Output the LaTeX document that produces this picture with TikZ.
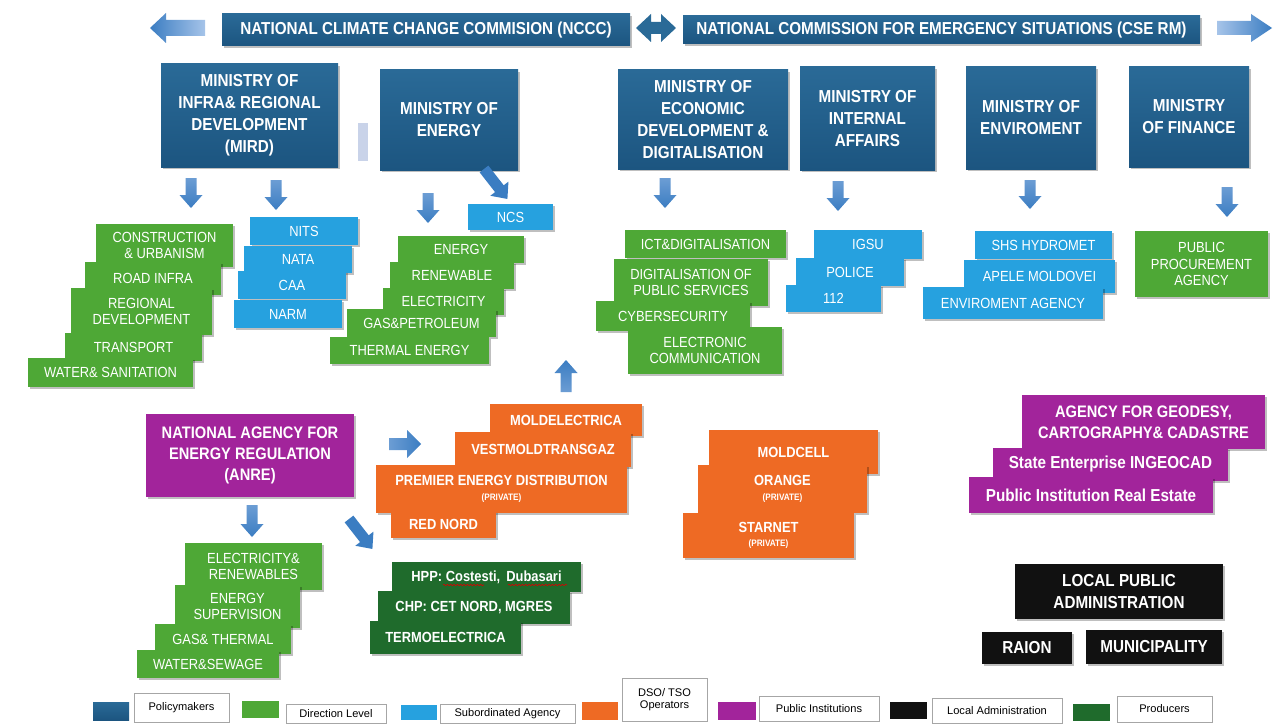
\documentclass[tikz,border=0pt]{standalone}
\usepackage{fontspec}
\setmainfont{Liberation Sans}
\newfontfamily\cond[FakeStretch=0.88]{Liberation Sans}
\usetikzlibrary{shadows,decorations.pathmorphing}
\definecolor{polA}{HTML}{2A6A97}
\definecolor{polB}{HTML}{1C5580}
\definecolor{dirg}{HTML}{4EA836}
\definecolor{subb}{HTML}{26A1DF}
\definecolor{dsoc}{HTML}{EE6A24}
\definecolor{pubc}{HTML}{A2249B}
\definecolor{locc}{HTML}{111111}
\definecolor{prodc}{HTML}{1F6B2C}
\definecolor{arrD}{HTML}{3B7DC2}
\definecolor{arrM}{HTML}{6C9DD4}
\definecolor{arrL}{HTML}{A6C4E9}
\definecolor{barc}{HTML}{C9D3E9}
\tikzset{
 bx/.style={inner sep=1pt, align=center, text=white, drop shadow={shadow xshift=1.2pt, shadow yshift=-1.2pt, opacity=0.25, fill=black}},
 polbox/.style={bx, top color=polA, bottom color=polB, font=\cond\bfseries\fontsize{13}{16.5}\selectfont},
 dirbox/.style={bx, fill=dirg, font=\cond\fontsize{11}{12.5}\selectfont},
 subbox/.style={bx, fill=subb, font=\cond\fontsize{11}{12.5}\selectfont},
 dsobox/.style={bx, fill=dsoc, font=\cond\bfseries\fontsize{11}{12}\selectfont},
 pubbox/.style={bx, fill=pubc, font=\cond\bfseries\fontsize{12.5}{16}\selectfont},
 locbox/.style={bx, fill=locc, font=\cond\bfseries\fontsize{13}{16.5}\selectfont},
 prodbox/.style={bx, fill=prodc, font=\cond\bfseries\fontsize{11}{12}\selectfont},
 legsw/.style={inner sep=0pt},
 legbox/.style={draw=black!35, line width=0.4pt, fill=white, text=black, inner sep=1pt, align=center, font=\fontsize{8.3}{9.5}\selectfont},
}
\newcommand{\mkbox}[7]{\node[#2, minimum width={0.75pt*(#5-#3)}, minimum height={0.75pt*(#6-#4)}] (#1) at ({(#3+#5)/2},{(#4+#6)/2}) {#7};}
\newcommand{\darr}[3]{\shade[top color=arrM, bottom color=arrD] ({#1-5.5},#2) -- ({#1+5.5},#2) -- ({#1+5.5},{#2+#3-13}) -- ({#1+11.5},{#2+#3-13}) -- (#1,{#2+#3}) -- ({#1-11.5},{#2+#3-13}) -- ({#1-5.5},{#2+#3-13}) -- cycle;}
\newcommand{\uarr}[3]{\shade[bottom color=arrM, top color=arrD] ({#1-5.5},#2) -- ({#1+5.5},#2) -- ({#1+5.5},{#2-#3+13}) -- ({#1+11.5},{#2-#3+13}) -- (#1,{#2-#3}) -- ({#1-11.5},{#2-#3+13}) -- ({#1-5.5},{#2-#3+13}) -- cycle;}
\newcommand{\diagarr}[4]{\fill[arrD, shift={(#1,#2)}, rotate=#3] (0,-5.5) -- ({#4-13},-5.5) -- ({#4-13},-11.5) -- (#4,0) -- ({#4-13},11.5) -- ({#4-13},5.5) -- (0,5.5) -- cycle;}
\newcommand{\pv}{\\[-1pt]{\fontsize{7}{8}\selectfont(PRIVATE)}}
\begin{document}
\begin{tikzpicture}[x=0.75pt,y=-0.75pt]
\useasboundingbox[fill=white] (0,0) rectangle (1284,724);
% top row
\shade[left color=arrD, right color=arrL] (205,20) -- (166,20) -- (166,13) -- (150,28) -- (166,43) -- (166,36) -- (205,36) -- cycle;
\mkbox{nccc}{polbox}{222}{14}{630}{46}{NATIONAL CLIMATE CHANGE COMMISION (NCCC)}
\shade[left color=polA, right color=polA] (636,28) -- (651,14) -- (651,22) -- (661,22) -- (661,14) -- (676,28) -- (661,42) -- (661,34) -- (651,34) -- (651,42) -- cycle;
\mkbox{cse}{polbox}{683}{16}{1200}{44}{NATIONAL COMMISSION FOR EMERGENCY SITUATIONS (CSE RM)}
\shade[left color=arrL, right color=arrD] (1217,21) -- (1251,21) -- (1251,14) -- (1272,28) -- (1251,42) -- (1251,35) -- (1217,35) -- cycle;
% ministries
\mkbox{mird}{polbox}{161}{64}{338}{167}{MINISTRY OF\\INFRA\& REGIONAL\\DEVELOPMENT\\(MIRD)}
\fill[barc] (358,123) rectangle (368,161);
\mkbox{moe}{polbox}{380}{70}{518}{170}{MINISTRY OF\\ENERGY}
\mkbox{med}{polbox}{618}{70}{788}{169}{MINISTRY OF\\ECONOMIC\\DEVELOPMENT \&\\DIGITALISATION}
\mkbox{mia}{polbox}{800}{67}{935}{170}{MINISTRY OF\\INTERNAL\\AFFAIRS}
\mkbox{men}{polbox}{966}{67}{1096}{169}{MINISTRY OF\\ENVIROMENT}
\mkbox{mfi}{polbox}{1129}{67}{1249}{167}{MINISTRY\\OF FINANCE}
% arrows under ministries
\darr{191}{178}{30}
\darr{276}{180}{30}
\darr{428}{193}{30}
\diagarr{484}{169}{-52}{38}
\darr{665}{178}{30}
\darr{838}{181}{30}
\darr{1030}{180}{29}
\darr{1227}{187}{30}
% MIRD direction level
\mkbox{cu}{dirbox}{96}{224}{233}{267}{CONSTRUCTION\\\& URBANISM}
\mkbox{ri}{dirbox}{85}{262}{221}{295}{ROAD INFRA}
\mkbox{rd}{dirbox}{71}{288}{212}{335}{REGIONAL\\DEVELOPMENT}
\mkbox{tr}{dirbox}{65}{333}{202}{361}{TRANSPORT}
\mkbox{ws}{dirbox}{28}{358}{193}{387}{WATER\& SANITATION}
% MIRD subordinated
\mkbox{nits}{subbox}{250}{217}{358}{245}{NITS}
\mkbox{nata}{subbox}{244}{246}{352}{273}{NATA}
\mkbox{caa}{subbox}{238}{271}{346}{299}{CAA}
\mkbox{narm}{subbox}{234}{300}{342}{328}{NARM}
% energy
\mkbox{ncs}{subbox}{468}{204}{553}{230}{NCS}
\mkbox{en}{dirbox}{398}{236}{524}{263}{ENERGY}
\mkbox{ren}{dirbox}{390}{262}{514}{289}{RENEWABLE}
\mkbox{el}{dirbox}{383}{288}{504}{315}{ELECTRICITY}
\mkbox{gp}{dirbox}{347}{309}{496}{337}{GAS\&PETROLEUM}
\mkbox{te}{dirbox}{330}{337}{489}{364}{THERMAL ENERGY}
% economy
\mkbox{ict}{dirbox}{625}{230}{786}{258}{ICT\&DIGITALISATION}
\mkbox{dps}{dirbox}{614}{259}{768}{306}{DIGITALISATION OF\\PUBLIC SERVICES}
\mkbox{cyb}{dirbox}{596}{301}{750}{331}{CYBERSECURITY}
\mkbox{ec}{dirbox}{628}{327}{782}{374}{ELECTRONIC\\COMMUNICATION}
% internal
\mkbox{igsu}{subbox}{814}{230}{922}{259}{IGSU}
\mkbox{pol}{subbox}{796}{258}{904}{286}{POLICE}
\mkbox{e112}{subbox}{786}{285}{881}{312}{112}
% environment
\mkbox{shs}{subbox}{975}{231}{1112}{259}{SHS HYDROMET}
\mkbox{apm}{subbox}{964}{260}{1115}{293}{APELE MOLDOVEI}
\mkbox{ena}{subbox}{923}{287}{1103}{319}{ENVIROMENT AGENCY}
% finance
\mkbox{ppa}{dirbox}{1135}{231}{1268}{297}{PUBLIC\\PROCUREMENT\\AGENCY}
% ANRE
\mkbox{anre}{pubbox}{146}{414}{354}{497}{NATIONAL AGENCY FOR\\ENERGY REGULATION\\(ANRE)}
\shade[left color=arrM, right color=arrD] (389,438) -- (407,438) -- (407,430) -- (421,444) -- (407,458) -- (407,450) -- (389,450) -- cycle;
\uarr{566}{392}{32}
\darr{252}{505}{32}
\diagarr{349}{519}{-52}{38}
% DSO/TSO energy
\mkbox{mel}{dsobox}{490}{404}{642}{436}{MOLDELECTRICA}
\mkbox{vmt}{dsobox}{455}{432}{631}{467}{VESTMOLDTRANSGAZ}
\mkbox{ped}{dsobox}{376}{465}{627}{513}{PREMIER ENERGY DISTRIBUTION\pv}
\mkbox{rn}{dsobox}{391}{511}{496}{538}{RED NORD}
% producers
\mkbox{hpp}{prodbox}{392}{562}{581}{592}{HPP: Costesti,\, Dubasari}
\mkbox{chp}{prodbox}{378}{591}{570}{624}{CHP: CET NORD, MGRES}
\mkbox{tel}{prodbox}{370}{621}{521}{654}{TERMOELECTRICA}
\draw[red!85!black, line width=0.5pt, decorate, decoration={snake, amplitude=0.5pt, segment length=2.5pt}] (443,585) -- (484,585);
\draw[red!85!black, line width=0.5pt, decorate, decoration={snake, amplitude=0.5pt, segment length=2.5pt}] (508,585) -- (567,585);
% ANRE direction
\mkbox{er}{dirbox}{185}{543}{322}{590}{ELECTRICITY\&\\RENEWABLES}
\mkbox{es}{dirbox}{175}{585}{300}{628}{ENERGY\\SUPERVISION}
\mkbox{gt}{dirbox}{155}{624}{291}{654}{GAS\& THERMAL}
\mkbox{wsw}{dirbox}{137}{650}{279}{678}{WATER\&SEWAGE}
% telecom
\mkbox{mc}{dsobox}{709}{430}{878}{474}{MOLDCELL}
\mkbox{ora}{dsobox}{698}{465}{867}{513}{ORANGE\pv}
\mkbox{stn}{dsobox}{683}{513}{854}{558}{STARNET\pv}
% public institutions
\mkbox{agc}{pubbox}{1022}{395}{1265}{449}{AGENCY FOR GEODESY,\\CARTOGRAPHY\& CADASTRE}
\mkbox{ing}{pubbox, font=\cond\bfseries\fontsize{13}{15}\selectfont}{993}{448}{1228}{481}{State Enterprise INGEOCAD}
\mkbox{pire}{pubbox, font=\cond\bfseries\fontsize{13}{15}\selectfont}{969}{477}{1213}{513}{Public Institution Real Estate}
% local
\mkbox{lpa}{locbox}{1015}{564}{1223}{619}{LOCAL PUBLIC\\ADMINISTRATION}
\mkbox{rai}{locbox}{982}{632}{1072}{664}{RAION}
\mkbox{mun}{locbox}{1086}{630}{1222}{664}{MUNICIPALITY}
% legend
\mkbox{sw1}{legsw, top color=polA, bottom color=polB}{93}{702}{129}{720}{}
\mkbox{lg1}{legbox}{134}{693}{229}{722}{Policymakers}
\mkbox{sw2}{legsw, fill=dirg}{242}{701}{279}{718}{}
\mkbox{lg2}{legbox}{286}{704}{386}{723}{Direction Level}
\mkbox{sw3}{legsw, fill=subb}{401}{705}{437}{720}{}
\mkbox{lg3}{legbox}{440}{704}{575}{723}{Subordinated Agency}
\mkbox{sw4}{legsw, fill=dsoc}{582}{702}{618}{720}{}
\mkbox{lg4}{legbox}{622}{678}{707}{721}{DSO/ TSO\\Operators}
\mkbox{sw5}{legsw, fill=pubc}{718}{702}{756}{720}{}
\mkbox{lg5}{legbox}{759}{696}{879}{721}{Public Institutions}
\mkbox{sw6}{legsw, fill=locc}{890}{702}{927}{719}{}
\mkbox{lg6}{legbox}{932}{698}{1062}{723}{Local Administration}
\mkbox{sw7}{legsw, fill=prodc}{1073}{704}{1110}{721}{}
\mkbox{lg7}{legbox}{1117}{696}{1212}{722}{Producers}
\end{tikzpicture}
\end{document}
